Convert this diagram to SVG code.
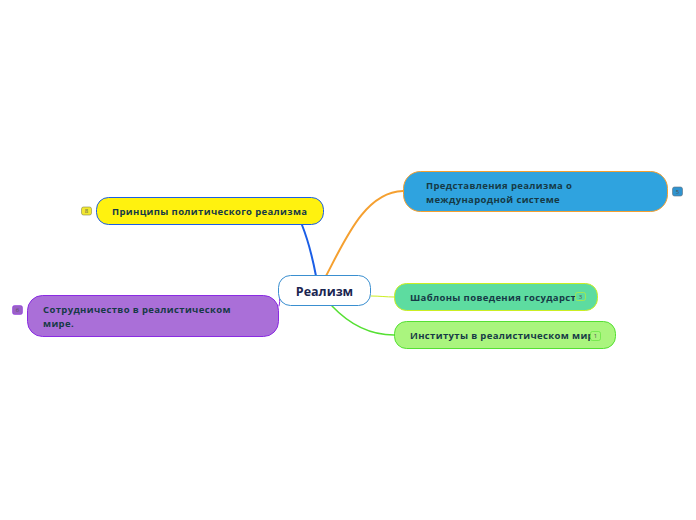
<svg xmlns="http://www.w3.org/2000/svg" width="696" height="520" viewBox="0 0 696 520">
<style>
.t{font-family:"Open Sans","Noto Sans","DejaVu Sans",sans-serif;font-weight:bold;font-size:9.5px;letter-spacing:0.36px;fill:#163a46}
.b{font-family:"Open Sans","DejaVu Sans",sans-serif;font-size:6px;fill:#555;text-anchor:middle}
.c{fill:none;stroke-linecap:round}
</style>
<rect width="696" height="520" fill="#ffffff"/>
<g id="connectors">
<path class="c" d="M316,276 C312,255 308,240 302,225" stroke="#1b5ee6" stroke-width="2"/>
<path class="c" d="M326,276 C345,240 365,192 403,191" stroke="#f5a030" stroke-width="2"/>
<path class="c" d="M371,296 C380,296 386,297 394,297" stroke="#ccee22" stroke-width="1"/>
<path class="c" d="M332,306 C350,325 370,335 394,335" stroke="#55e033" stroke-width="1.5"/>
<path class="c" d="M279,306 C281,300 278,292 280,291" stroke="#8a2be2" stroke-width="1"/>
</g>
<g id="center">
<rect x="278.5" y="275.5" width="92" height="30" rx="12" fill="#ffffff" stroke="#3a8fd0" stroke-width="1"/>
<text x="324.5" y="295.5" text-anchor="middle" style="font-family:'Open Sans','Noto Sans',sans-serif;font-weight:bold;font-size:12.5px;fill:#1a2550">Реализм</text>
</g>
<g id="n8">
<rect x="96.5" y="197.5" width="227" height="27" rx="12" fill="#fff20f" stroke="#1b5ee6" stroke-width="1"/>
<text class="t" x="112" y="215">Принципы политического реализма</text>
<rect x="81.5" y="207" width="10" height="8" rx="2" fill="#f2e830" stroke="#8a8a40" stroke-width="0.6"/>
<text class="b" x="86.5" y="213.2">8</text>
</g>
<g id="n5">
<rect x="403.5" y="171.5" width="264" height="40" rx="17" fill="#2fa3df" stroke="#f5a030" stroke-width="1"/>
<text class="t" x="426" y="189">Представления реализма о</text>
<text class="t" x="426" y="203">международной системе</text>
<rect x="672.5" y="187" width="10" height="9" rx="2" fill="#2f93cf" stroke="#607080" stroke-width="0.6"/>
<text class="b" x="677.5" y="193.5">5</text>
</g>
<g id="n3">
<rect x="394.5" y="283.5" width="203" height="27" rx="12" fill="#5ddca0" stroke="#ccee22" stroke-width="1"/>
<text class="t" x="410" y="301">Шаблоны поведения государст</text>
<rect x="575.5" y="292.5" width="10" height="8" rx="2" fill="#5ddca0" stroke="#ccee22" stroke-width="0.6"/>
<text class="b" x="580.5" y="298.8">3</text>
</g>
<g id="n1">
<rect x="394.5" y="321.5" width="221" height="27" rx="12" fill="#aaf57e" stroke="#55e033" stroke-width="1"/>
<text class="t" x="410" y="339">Институты в реалистическом мир</text>
<rect x="590.5" y="331.5" width="10" height="9" rx="2" fill="#aaf57e" stroke="#55e033" stroke-width="0.6"/>
<text class="b" x="595.5" y="338">1</text>
</g>
<g id="n6">
<rect x="27.5" y="295.5" width="251" height="41" rx="15" fill="#aa6fd8" stroke="#8a2be2" stroke-width="1"/>
<text class="t" x="43" y="313">Сотрудничество в реалистическом</text>
<text class="t" x="43" y="327">мире.</text>
<rect x="12.5" y="305.5" width="10" height="9" rx="2" fill="#9a5fc8" stroke="#8a2be2" stroke-width="0.5"/>
<text class="b" x="17.5" y="312">6</text>
</g>
</svg>
